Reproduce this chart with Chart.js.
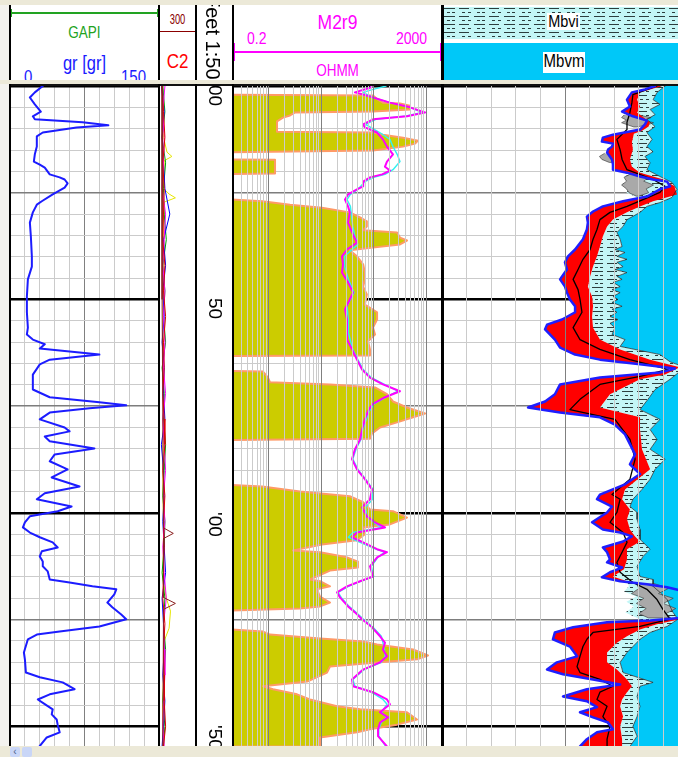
<!DOCTYPE html>
<html>
<head>
<meta charset="utf-8">
<title>Well log</title>
<script src="https://cdn.jsdelivr.net/npm/chart.js@4.4.1/dist/chart.umd.min.js"></script>
<style>
html, body { margin:0; padding:0; overflow:hidden; background:#f3f2ee; }
#frame { position:relative; width:678px; height:757px; overflow:hidden; background:#f3f2ee; font-family:"Liberation Sans", Arial, sans-serif; }
#frame div, #frame canvas { position:absolute; }
.t { line-height:1; white-space:nowrap; transform-origin:50% 0; transform:scaleY(1.18); }
.vl { background:#000; width:2px; }
.dlabel { writing-mode:vertical-rl; font-size:19px; line-height:19px; color:#000; left:205.5px; white-space:nowrap; }
</style>
</head>
<body>
<div id="frame">
  <div style="left:0;top:0;width:678px;height:5px;background:#ece9d8"></div>
  <div style="left:0;top:80px;width:678px;height:4px;background:#ece9d8"></div>

  <!-- log body -->
  <div style="left:9px;top:84px;width:669px;height:662px;background:#fff"></div>
  <canvas id="cGR" width="149" height="660" style="left:10px;top:86px"></canvas>
  <canvas id="cC2" width="35" height="660" style="left:160px;top:86px"></canvas>
  <canvas id="cDepth" width="35" height="660" style="left:197px;top:86px"></canvas>
  <canvas id="cRes" width="210" height="660" style="left:232px;top:86px"></canvas>
  <canvas id="cNMR" width="246" height="660" style="left:442px;top:86px"></canvas>
  <div style="left:9px;top:84px;width:669px;height:2px;background:#111"></div>
  <div class="vl" style="left:9px;top:84px;height:662px"></div>
  <div class="vl" style="left:158px;top:84px;height:662px"></div>
  <div class="vl" style="left:195px;top:84px;height:662px"></div>
  <div class="vl" style="left:232px;top:84px;height:662px"></div>
  <div class="vl" style="left:441px;top:84px;height:662px;width:3px"></div>

  <!-- header -->
  <div id="hdr" style="left:0;top:0;width:678px;height:80px;overflow:hidden">
    <div style="left:9px;top:5px;width:669px;height:75px;background:#fff"></div>
    <div style="left:11px;top:12px;width:147px;height:2px;background:#22a322"></div>
    <div style="left:11px;top:9px;width:1px;height:8px;background:#22a322"></div>
    <div style="left:157px;top:9px;width:1px;height:8px;background:#22a322"></div>
    <div class="t" style="left:11px;top:25px;width:147px;text-align:center;font-size:13.5px;color:#22a322">GAPI</div>
    <div class="t" style="left:11px;top:52.5px;width:147px;text-align:center;font-size:16.5px;color:#1a1aff">gr [gr]</div>
    <div class="t" style="left:24px;top:68px;font-size:15px;color:#1a1aff">0</div>
    <div class="t" style="left:121px;top:68px;font-size:15px;color:#1a1aff">150</div>

    <div class="t" style="left:160px;top:11px;width:35px;text-align:center;font-size:13px;color:#8b0000;transform:scale(0.72,1.15)">300</div>
    <div style="left:160px;top:31px;width:35px;height:1px;background:#8b0000"></div>
    <div class="t" style="left:160px;top:50.5px;width:35px;text-align:center;font-size:17px;color:#ff0000">C2</div>

    <div style="left:197px;top:5px;width:35px;height:75px;overflow:hidden">
      <div style="left:6px;top:-10px;writing-mode:vertical-rl;font-size:20px;line-height:20px;white-space:nowrap;color:#000">Feet 1:500</div>
    </div>

    <div class="t" style="left:234px;top:12.3px;width:207px;text-align:center;font-size:17.5px;color:#ff00ff">M2r9</div>
    <div class="t" style="left:247px;top:29.5px;font-size:14px;color:#ff00ff">0.2</div>
    <div class="t" style="left:396px;top:29.5px;font-size:14px;color:#ff00ff">2000</div>
    <div style="left:233px;top:50.5px;width:209px;height:2.5px;background:#ff00ff"></div>
    <div style="left:233px;top:43px;width:2px;height:18px;background:#ff00ff"></div>
    <div style="left:440px;top:43px;width:2px;height:18px;background:#ff00ff"></div>
    <div class="t" style="left:234px;top:63px;width:207px;text-align:center;font-size:13.5px;color:#ff00ff">OHMM</div>

    <div id="hdrHatch" style="left:444px;top:7px;width:234px;height:32px;background:#c3f6f6"></div>
    <div style="left:444px;top:43px;width:234px;height:37px;background:#00c8f8"></div>
    <div style="left:547px;top:13px;width:33px;height:17px;background:#fff"></div>
    <div class="t" style="left:547px;top:12.5px;width:33px;text-align:center;font-size:14.5px;color:#000">Mbvi</div>
    <div style="left:543px;top:52px;width:42px;height:21px;background:#fff"></div>
    <div class="t" style="left:543px;top:52.4px;width:42px;text-align:center;font-size:15px;color:#000">Mbvm</div>

    <div class="vl" style="left:9px;top:5px;height:75px"></div>
    <div class="vl" style="left:158px;top:5px;height:75px"></div>
    <div class="vl" style="left:195px;top:5px;height:75px"></div>
    <div class="vl" style="left:232px;top:5px;height:75px"></div>
    <div class="vl" style="left:441px;top:5px;height:75px;width:3px"></div>
  </div>

  <!-- horizontal scroll bar -->
  <div style="left:0;top:746px;width:678px;height:11px;background:#ece9d8"></div>
  <div style="left:10px;top:747px;width:10px;height:10px;background:#c9d6f7;border-radius:2px;font-size:10px;line-height:10px;text-align:center;color:#4d6185">&#8249;</div>
  <div style="left:22px;top:747px;width:10px;height:10px;background:#c9d6f7;border-radius:2px"></div>
</div>

<script>
// ---------- depth frame ----------
const DEPTH_TOP = 1100;
const DEPTH_BASE = 1254.6;
const depthLabelDepths = [1100, 1150, 1200, 1250];
const depthLabels = ["00", "50", "'00", "'50"];

// ---------- gamma ray (GAPI) ----------
const grDepth = [
  1100.0,1101.5,1102.7,1104.3,1106.0,1107.1,1107.8,1108.5,1109.2,1109.7,
  1110.9,1111.8,1114.2,1116.0,1117.7,1118.4,1119.1,1120.7,1121.4,1121.9,
  1122.8,1123.8,1125.4,1127.0,1127.8,1129.6,1132.0,1135.2,1139.9,1142.3,
  1145.3,1149.3,1153.0,1156.6,1158.2,1159.4,1160.5,1161.5,1162.9,1164.1,
  1165.2,1167.6,1171.1,1172.9,1174.1,1174.8,1175.5,1176.5,1178.1,1180.0,
  1180.9,1182.1,1183.2,1184.9,1186.3,1187.9,1189.8,1191.7,1193.8,1195.4,
  1196.8,1198.5,1199.6,1200.8,1202.2,1203.4,1204.6,1205.7,1206.9,1208.1,
  1209.0,1210.2,1211.4,1212.5,1213.7,1215.6,1216.3,1217.2,1217.9,1219.1,
  1221.0,1222.1,1223.8,1224.9,1226.6,1227.8,1228.5,1229.6,1232.7,1234.3,
  1237.4,1238.5,1239.7,1241.3,1242.5,1243.7,1244.8,1246.0,1247.2,1248.4,
  1249.6,1251.4,1252.6,1254.6];
const grApi = [
  33,25,20,25,31,23,25,73,99,67,
  33,27,27,25,24,30,35,40,50,55,
  58,55,43,32,27,23,20,21,22,22,
  18,17,17,18,17,23,35,30,90,40,
  30,23,23,40,90,117,80,40,30,55,
  60,35,40,85,45,40,58,42,70,35,
  27,62,48,20,15,13,20,30,43,48,
  32,30,33,33,38,40,60,83,107,105,
  98,103,112,117,90,50,27,18,14,15,
  16,30,53,65,40,28,35,43,42,47,
  48,50,37,30];

// ---------- C2 track ----------
const c2Depth = [1100,1106,1112,1118,1124,1130,1136,1142,1148,1154,
                 1160,1166,1172,1178,1184,1190,1196,1202,1208,1214,
                 1220,1226,1232,1238,1244,1250,1254.6];
const c2Green   = [4,7,3,8,5,6,9,4,7,5, 8,3,6,5,8,6,4,7,6,3, 7,5,8,6,4,7,5];
const c2Blue    = [2,6,3,5,7,14,5,8,4,6, 3,6,5,7,2,5,6,4,6,8, 3,5,6,4,7,5,3];
const c2Magenta = [7,4,6,5,3,8,6,4,7,5, 7,5,8,4,6,8,5,7,4,6, 9,5,6,7,5,4,6];
const c2Red     = [3,5,7,4,6,5,4,7,5,8, 5,6,4,6,7,4,7,5,6,5, 4,7,5,6,6,8,5];
const c2YellowDepth = [1100,1112,1115.5,1116.5,1117.5,1124,1125.3,1126.2,1127.2,1140,
                       1160,1175,1190,1205,1215,1220,1223,1227,1230,1245,1254.6];
const c2Yellow      = [4,5,10,17,6,5,13,22,6,5, 4,5,4,5,4,9,15,13,6,4,4];
const c2BrownDepth = [1100,1150,1203.5,1204.8,1206,1219.8,1221.2,1222.6,1254.6];
const c2Brown      = [3,3,5,19,5,5,22,5,4];

// ---------- resistivity (OHMM) ----------
const shadeDepth = [
  1100.0,1102.0,1102.2,1103.2,1103.9,1104.1,1104.6,1105.5,1106.0,1106.2,
  1106.9,1107.4,1108.3,1110.7,1110.9,1111.4,1112.1,1112.8,1113.5,1114.2,
  1115.1,1115.6,1117.2,1117.3,1120.5,1120.7,1126.1,1127.0,1127.8,1128.5,
  1129.6,1130.8,1131.7,1132.9,1133.8,1134.3,1135.5,1136.2,1137.1,1137.8,
  1138.5,1139.9,1141.8,1143.7,1145.3,1147.0,1148.8,1151.2,1153.0,1154.7,
  1156.6,1158.2,1159.8,1161.7,1163.1,1163.3,1166.6,1166.9,1168.3,1169.4,
  1169.9,1170.6,1172.2,1173.9,1175.3,1176.7,1177.6,1178.8,1180.0,1181.4,
  1182.6,1183.0,1193.1,1193.8,1195.0,1196.1,1197.5,1199.2,1199.6,1201.1,
  1202.7,1203.4,1205.0,1206.4,1207.4,1208.8,1209.2,1210.4,1211.4,1212.8,
  1213.5,1215.6,1216.0,1217.2,1217.9,1219.6,1221.0,1221.9,1222.4,1223.1,
  1226.8,1227.8,1228.5,1229.4,1230.1,1230.8,1232.0,1233.4,1234.3,1235.0,
  1236.0,1237.4,1239.5,1240.6,1241.3,1242.5,1243.7,1245.3,1246.0,1246.7,
  1248.4,1249.6,1250.7,1251.4,1252.6,1254.7];
const shadeOhmm = [
  0.05,0.05,97,121,150,317,491,491,97,3.2,
  2.55,1.87,1.44,1.44,97,150,362,697,614,362,
  97,0.05,0.05,1.32,1.32,0.05,0.05,0.75,2.55,10.3,
  35,55,74,74,63,278,317,430,317,106,
  35,48,63,68,68,63,74,68,116,116,
  97,106,78,85,85,0.05,0.05,0.78,0.97,1.06,
  14.7,106,179,233,430,949,561,278,132,93,
  85,0.05,0.05,0.75,3.94,35,63,85,233,430,
  204,63,68,48,10.3,2.9,9.5,31,50,50,
  14.7,6.1,9.5,14.7,8.3,9.5,14.7,9.5,3.9,0.05,
  0.05,0.78,1.06,9.5,63,116,561,1082,668,132,
  14.7,12.9,5.4,0.78,1.21,3.46,6.1,20,55,430,
  668,278,85,48,9.5,9.5];

const m2r9Depth = [
  1100.0,1100.4,1101.5,1102.0,1102.7,1103.9,1105.0,1106.2,1107.1,1107.8,
  1109.0,1109.7,1110.9,1112.5,1114.2,1116.0,1117.7,1118.9,1119.8,1120.7,
  1121.4,1122.4,1123.5,1124.2,1125.4,1126.6,1128.2,1129.6,1132.0,1134.3,
  1136.7,1138.3,1139.9,1141.8,1143.7,1146.0,1148.4,1150.0,1152.3,1154.7,
  1156.6,1159.4,1161.7,1164.1,1166.4,1168.3,1169.9,1171.5,1172.9,1174.6,
  1176.2,1178.1,1180.5,1182.8,1185.1,1187.4,1189.8,1192.1,1194.5,1196.8,
  1198.7,1200.8,1202.2,1203.4,1204.6,1205.7,1206.9,1208.5,1209.2,1210.4,
  1212.5,1214.9,1216.0,1217.2,1218.6,1219.8,1221.9,1223.3,1224.9,1226.8,
  1228.9,1230.4,1232.0,1233.6,1235.0,1236.7,1239.0,1240.6,1242.0,1243.7,
  1244.8,1246.7,1247.9,1249.1,1250.7,1252.3,1254.7];
const m2r9 = [
  93,85,44,63,97,204,491,949,430,97,
  63,68,116,150,179,233,179,164,204,145,
  85,63,63,48,32.5,28.4,32.5,35,32.5,38.6,
  48,31,24.9,26,24.9,32.5,40.4,35,28.4,31,
  31,31,38.6,48,60,85,150,317,164,93,
  78,68,60,55,44,38.6,48,68,93,85,
  60,74,106,164,48,38.6,63,116,179,116,
  85,97,55,31,20,22.8,32.5,44,60,93,
  132,164,150,179,132,62.7,38.6,40.4,97,179,
  204,132,187,132,121,121,179];

const rxoDepth = [
  1100.0,1100.8,1101.5,1102.7,1103.9,1105.0,1106.2,1107.1,1107.8,1109.0,
  1110.9,1112.5,1114.2,1116.0,1117.7,1119.6,1120.7,1121.4,1122.4,1124.2,
  1125.4,1126.6,1128.2,1130.6,1132.9,1135.2,1137.1,1139.9,1142.3,1145.3,
  1148.4,1151.6,1154.7,1157.8,1161.7,1164.1,1166.4,1168.3,1169.9,1171.5,
  1172.9,1174.6,1176.2,1178.1,1180.5,1182.8,1185.1,1187.4,1189.8,1192.1,
  1194.5,1196.8,1198.7,1200.8,1202.2,1203.4,1204.6,1205.7,1206.9,1208.5,
  1209.2,1210.4,1212.5,1214.9,1216.0,1217.2,1218.6,1219.8,1221.9,1223.3,
  1224.9,1226.8,1228.9,1230.4,1232.0,1233.6,1235.0,1236.7,1239.0,1240.6,
  1242.0,1243.7,1244.8,1246.7,1247.9,1249.1,1250.7,1252.3,1254.7];
const rxo = [
  172,97,63,97,204,491,830,380,110,70,
  130,204,233,280,317,233,164,100,68,50,
  36,31,36,38,40,44,50,28,28,33,
  42,31,33,33,40,50,63,90,160,290,
  170,100,82,72,62,57,46,40,50,70,
  97,95,70,74,100,140,40,33,55,110,
  160,120,90,100,58,33,21,24,34,46,
  64,97,140,150,160,165,140,66,40,44,
  90,150,180,140,175,140,125,125,170];

// ---------- NMR track (grid units, 0 = left edge) ----------
const phiDepth = [
  1100.0,1100.8,1101.5,1103.2,1104.8,1106.0,1107.1,1108.1,1109.0,1110.2,
  1111.4,1112.1,1113.0,1113.5,1114.2,1114.9,1115.6,1117.2,1118.4,1119.6,
  1120.3,1121.2,1121.9,1122.4,1123.5,1124.2,1125.9,1127.0,1128.2,1129.4,
  1130.6,1132.0,1133.6,1135.9,1138.3,1139.9,1141.3,1143.0,1144.6,1145.3,
  1147.0,1148.4,1150.0,1151.6,1153.0,1154.7,1155.9,1157.0,1159.4,1161.3,
  1162.9,1164.1,1165.2,1166.2,1167.1,1168.3,1169.9,1172.2,1173.9,1175.3,
  1176.5,1177.6,1179.3,1181.6,1183.9,1186.3,1188.6,1190.9,1193.3,1195.7,
  1196.8,1198.5,1199.9,1202.2,1203.9,1204.6,1205.5,1206.7,1208.1,1209.2,
  1210.9,1211.6,1212.8,1213.9,1215.1,1216.0,1216.7,1217.4,1218.4,1221.4,
  1224.5,1225.2,1225.6,1226.8,1228.0,1229.6,1231.3,1233.6,1235.0,1236.7,
  1237.8,1239.0,1240.2,1241.3,1243.0,1244.1,1245.5,1246.7,1247.9,1249.1,
  1250.7,1251.4,1253.0,1254.7];
const phiTotal = [
  8.66,8.25,7.72,7.52,7.64,7.32,7.76,8.33,8.25,8.05,
  6.95,6.54,6.5,6.95,6.91,6.75,6.71,6.91,6.95,6.95,
  7.52,8.05,8.58,9.15,9.27,8.86,8.33,7.36,6.54,6.14,
  5.89,5.93,5.89,5.73,5.41,5.12,5.0,5.08,4.88,4.8,
  5.0,5.08,5.2,5.41,5.41,4.88,4.27,4.19,4.59,4.8,
  5.41,6.42,8.05,9.47,8.86,6.42,4.8,4.59,4.19,3.5,
  4.8,6.42,7.03,7.44,7.64,7.85,7.64,8.05,7.44,6.42,
  6.3,6.91,6.71,6.1,6.54,7.24,7.72,7.36,6.54,6.71,
  6.83,6.71,7.32,6.83,6.5,7.24,8.33,9.15,9.88,10.1,
  9.88,8.46,6.71,5.33,4.59,4.51,5.2,5.49,4.67,4.27,
  4.92,6.14,7.24,5.89,4.92,5.89,6.3,5.61,6.14,6.75,
  6.95,6.3,5.89,5.61];

const ffiDepth = [
  1100.0,1101.5,1103.2,1104.8,1106.2,1108.5,1109.5,1110.4,1111.2,1113.2,
  1114.9,1117.2,1118.9,1120.3,1121.9,1123.5,1125.4,1127.0,1128.2,1129.6,
  1131.3,1132.9,1135.2,1137.6,1139.9,1142.3,1144.6,1147.0,1149.3,1151.6,
  1154.0,1156.6,1159.4,1161.7,1164.1,1165.9,1167.6,1168.7,1172.2,1175.3,
  1177.6,1180.5,1185.1,1189.8,1194.5,1196.8,1199.2,1201.5,1203.9,1205.5,
  1206.7,1208.5,1210.9,1213.2,1214.9,1216.0,1217.2,1218.4,1224.5,1224.9,
  1226.1,1227.3,1228.9,1230.4,1232.7,1235.0,1236.7,1239.0,1240.6,1242.0,
  1243.7,1245.3,1247.7,1250.0,1253.0,1254.7];
const ffiEdge = [
  8.94,8.05,7.93,8.05,7.93,8.45,8.4,8.15,7.8,7.72,
  7.76,7.64,7.72,8.05,9.0,9.45,9.55,8.58,8.05,7.52,
  6.95,6.71,6.54,6.42,6.3,6.14,6.02,5.93,6.1,6.14,
  6.1,6.14,6.42,7.24,8.46,9.67,9.07,8.05,6.83,6.42,
  8.05,8.05,8.13,8.46,7.44,7.32,7.64,7.52,7.64,7.85,
  8.05,7.52,7.52,7.4,6.95,7.52,8.86,10.1,10.1,9.67,
  8.74,8.05,7.52,7.11,6.71,6.71,7.11,7.52,7.72,7.52,
  7.32,7.24,7.36,7.24,7.32,7.32];

const bviDepth = [
  1100.0,1101.5,1103.2,1104.8,1106.2,1108.5,1109.5,1110.4,1111.2,1113.2,
  1114.9,1117.2,1118.9,1120.3,1121.2,1122.2,1123.0,1124.0,1125.0,1126.0,
  1127.0,1128.2,1129.6,1131.3,1132.9,1135.2,1137.6,1139.9,1142.3,1144.6,
  1147.0,1149.3,1151.6,1154.0,1156.6,1159.4,1161.7,1164.1,1165.9,1167.6,
  1168.7,1172.2,1175.3,1177.6,1180.5,1185.1,1189.8,1194.5,1196.8,1199.2,
  1201.5,1203.9,1205.5,1206.7,1208.5,1210.9,1213.2,1214.9,1216.0,1217.2,
  1218.4,1219.6,1220.8,1222.0,1223.3,1224.5,1225.3,1226.1,1227.3,1228.9,
  1230.4,1232.7,1235.0,1236.7,1239.0,1240.6,1242.0,1243.7,1245.3,1247.7,
  1250.0,1253.0,1254.7];
const bviEdge = [
  8.94,8.05,7.93,8.05,7.93,8.45,8.4,8.15,7.8,7.72,
  7.76,7.64,7.72,7.8,7.4,7.7,7.3,7.6,7.5,7.9,
  8.58,8.05,7.52,6.95,6.71,6.54,6.42,6.3,6.14,6.02,
  5.93,6.1,6.14,6.1,6.14,6.42,7.24,8.46,9.67,9.07,
  8.05,6.83,6.42,8.05,8.05,8.13,8.46,7.44,7.32,7.64,
  7.52,7.64,7.85,8.05,7.52,7.52,7.4,6.95,7.52,7.6,
  7.4,7.9,7.5,7.8,7.45,7.9,8.2,8.74,8.05,7.52,
  7.11,6.71,6.71,7.11,7.52,7.72,7.52,7.32,7.24,7.36,
  7.24,7.32,7.32];

const bvmDepth = [
  1100.0,1101.5,1103.2,1104.3,1105.5,1106.7,1107.8,1109.5,1110.9,1112.5,
  1114.2,1115.4,1116.5,1118.0,1119.6,1121.2,1122.6,1124.2,1126.1,1127.3,
  1128.2,1129.6,1131.3,1132.9,1134.3,1135.9,1137.6,1138.3,1139.0,1139.9,
  1140.6,1141.3,1142.3,1143.0,1143.7,1144.6,1145.3,1146.0,1147.0,1147.7,
  1148.4,1149.3,1150.0,1150.7,1151.6,1152.3,1153.0,1154.0,1154.7,1155.6,
  1156.6,1158.2,1159.4,1161.0,1162.9,1164.6,1165.9,1168.7,1171.1,1173.4,
  1175.8,1178.1,1180.5,1182.8,1185.1,1187.4,1189.8,1192.1,1194.5,1196.8,
  1198.5,1199.9,1201.5,1203.9,1206.2,1208.5,1210.2,1212.5,1214.9,1215.6,
  1217.2,1218.6,1220.3,1221.9,1223.3,1224.9,1226.6,1228.0,1229.6,1231.3,
  1232.7,1235.0,1237.4,1239.7,1240.6,1243.0,1245.3,1247.7,1250.0,1252.3,
  1254.7];
const bvmEdge = [
  9.07,8.74,8.58,8.86,8.46,8.66,8.33,8.66,8.33,8.54,
  8.33,8.58,8.25,8.46,8.33,8.86,9.35,9.55,9.35,8.86,
  8.33,8.05,7.52,7.36,7.11,7.24,7.32,7.03,7.44,7.11,
  7.52,7.11,7.36,7.03,7.52,7.11,7.32,6.95,7.24,6.91,
  7.24,6.95,7.15,6.91,7.32,6.91,7.11,6.83,7.15,6.83,
  7.03,6.91,7.44,7.24,8.86,9.27,9.88,9.27,8.66,8.37,
  8.05,8.86,8.46,8.74,8.46,9.07,8.66,8.46,8.13,7.76,
  7.64,7.93,7.93,8.05,8.05,8.46,8.17,7.93,8.05,8.58,
  8.58,8.86,9.15,9.27,9.39,9.59,9.15,8.46,8.05,7.76,
  7.52,7.24,7.36,8.58,8.05,7.93,8.05,7.93,7.76,7.93,
  7.64];

const capDepth = [
  1100.0,1102.0,1103.9,1106.2,1108.5,1110.2,1112.5,1114.9,1117.2,1119.6,
  1121.9,1123.5,1124.9,1126.6,1128.2,1129.6,1131.3,1133.6,1135.9,1138.3,
  1140.6,1143.0,1145.3,1147.7,1150.0,1153.0,1156.6,1159.4,1161.7,1164.1,
  1166.4,1168.0,1169.9,1173.4,1175.8,1178.1,1182.8,1187.4,1192.1,1195.7,
  1196.8,1199.9,1202.2,1204.6,1206.9,1209.2,1211.6,1213.9,1216.3,1217.9,
  1220.3,1222.6,1224.9,1226.6,1228.0,1229.6,1231.3,1233.6,1236.0,1237.4,
  1239.0,1240.6,1242.0,1243.7,1245.3,1247.7,1250.0,1253.0,1254.7];
const capCurve = [
  8.74,7.76,7.72,7.64,7.52,7.52,7.11,7.24,7.32,7.52,
  8.58,9.07,8.86,8.17,7.52,6.83,6.42,6.3,6.14,6.02,
  5.73,5.53,5.33,5.53,5.61,5.69,5.33,5.61,6.42,7.64,
  9.19,8.05,6.42,5.61,5.2,7.03,7.64,7.85,7.64,6.91,
  7.24,7.11,6.83,7.36,7.52,7.32,7.11,7.24,7.76,8.33,
  8.74,8.98,9.27,8.05,6.14,5.89,5.73,5.61,5.49,5.61,
  6.42,6.95,6.42,6.3,6.71,6.54,6.83,6.71,6.71];

// clay-bound patches: depth, left edge, right edge
const clayA = {depth: [1106.8,1107.4,1108.0,1108.6,1109.2,1109.6], left: [7.4,7.3,7.5,7.3,7.6,7.8], right: [8.0,8.5,8.2,8.6,8.3,7.9]};
const clayB = {depth: [1115.8,1116.5,1117.2,1117.9], left: [6.6,6.4,6.5,6.8], right: [6.9,6.95,6.95,6.9]};
const clayC = {depth: [1120.5,1121.4,1122.3,1123.2,1124.1,1125.0,1125.8], left: [7.7,7.4,7.5,7.3,7.5,7.6,7.9], right: [8.1,8.4,8.2,8.6,8.3,8.4,8.0]};
const clayD = {depth: [1216.5,1217.7,1218.9,1220.0,1221.2,1222.4,1223.6,1224.6], left: [7.9,8.0,7.7,8.2,7.9,8.3,8.0,8.4], right: [8.6,9.2,8.8,9.4,9.0,9.5,9.1,9.3]};

// ---------- grid definitions ----------
const depthGrid = [];
for (let d = DEPTH_TOP; d <= 1250; d += 5) depthGrid.push(d);
const grLines = [15, 30, 45, 60, 75, 90, 105, 120, 135];
const grDark = [75];
const resLines = [0.3,0.4,0.5,0.6,0.7,0.8,0.9,1,2,3,4,5,6,7,8,9,10,20,30,40,50,60,70,80,90,
                  100,200,300,400,500,600,700,800,900,1000];
const resDark = [1, 10, 100, 1000];
const nmrLines = [1,2,3,4,5,6,7,8,9];
const nmrDark = [5];

// ---------- helpers ----------
const pairs = (depths, vals) => depths.map((d, i) => ({x: vals[i], y: d}));

function trace(depths, vals, color, width, order) {
  return {data: pairs(depths, vals), borderColor: color, borderWidth: width, fill: false,
          order, pointRadius: 0, tension: 0};
}
function band(dA, vA, dB, vB, color, order, outline, ow) {
  return {data: pairs(dA, vA).concat(pairs(dB, vB).reverse()), fill: 'shape',
          backgroundColor: color, borderColor: outline || 'rgba(0,0,0,0)', borderWidth: ow || 0,
          order, pointRadius: 0, tension: 0};
}
function edgeFill(depths, vals, edge, color, order, outline, ow) {
  const pts = pairs(depths, vals);
  pts.push({x: edge, y: depths[depths.length - 1]}, {x: edge, y: depths[0]});
  return {data: pts, fill: 'shape', backgroundColor: color, borderColor: outline || 'rgba(0,0,0,0)',
          borderWidth: ow || 0, order, pointRadius: 0, tension: 0};
}
function depthLineColor(v) { return v % 50 === 0 ? '#000000' : (v % 25 === 0 ? '#7d7d7d' : '#cbcbcb'); }
function depthLineWidth(v) { return v % 50 === 0 ? 2.5 : (v % 25 === 0 ? 1.4 : 1); }

function depthAxis(showGrid) {
  return {
    type: 'linear', reverse: true, min: DEPTH_TOP, max: DEPTH_BASE,
    border: {display: false}, ticks: {display: false},
    grid: {display: showGrid, drawTicks: false,
      color: c => c.tick ? depthLineColor(c.tick.value) : '#cbcbcb',
      lineWidth: c => c.tick ? depthLineWidth(c.tick.value) : 1},
    afterBuildTicks: s => { s.ticks = depthGrid.map(v => ({value: v})); }
  };
}
function valueAxis(type, min, max, lines, dark, overFill) {
  return {
    type, min, max,
    border: {display: false}, ticks: {display: false},
    grid: {drawTicks: false, z: overFill ? 1 : -1, lineWidth: 1,
      color: c => (c.tick && dark.includes(c.tick.value)) ? '#808080' : '#cbcbcb'},
    afterBuildTicks: s => { s.ticks = lines.map(v => ({value: v})); }
  };
}
function makeChart(id, datasets, xAxis, showDepthGrid) {
  return new Chart(document.getElementById(id), {
    type: 'line',
    data: {datasets},
    options: {
      responsive: false, animation: false, events: [],
      layout: {autoPadding: false, padding: 0},
      plugins: {legend: {display: false}, tooltip: {enabled: false}},
      elements: {point: {radius: 0, hoverRadius: 0},
                 line: {tension: 0, borderJoinStyle: 'round', borderCapStyle: 'round'}},
      scales: {x: xAxis, y: depthAxis(showDepthGrid)}
    }
  });
}

// hatch used for the bound-fluid fill
function makeHatch() {
  const c = document.createElement('canvas');
  c.width = 30; c.height = 8;
  const g = c.getContext('2d');
  g.fillStyle = '#c3f6f6'; g.fillRect(0, 0, 30, 8);
  g.fillStyle = '#2c3d3d';
  g.fillRect(0, 1, 11, 1); g.fillRect(15, 1, 10, 1);
  g.fillRect(3, 5, 3, 1); g.fillRect(8, 5, 3, 1); g.fillRect(18, 5, 3, 1); g.fillRect(24, 5, 3, 1);
  return c;
}
const hatchTile = makeHatch();
document.getElementById('hdrHatch').style.background = 'url(' + hatchTile.toDataURL() + ')';
const hatch = document.getElementById('cNMR').getContext('2d').createPattern(hatchTile, 'repeat');

// ---------- tracks ----------
makeChart('cGR', [trace(grDepth, grApi, '#1c1cff', 2, 1)],
  valueAxis('linear', 0, 150, grLines, grDark, false), true);

makeChart('cC2', [
  trace(c2Depth, c2Green, '#00a000', 1, 5),
  trace(c2Depth, c2Blue, '#0000ff', 1, 4),
  trace(c2Depth, c2Magenta, '#ff00ff', 1, 3),
  trace(c2Depth, c2Red, '#e00000', 1, 2),
  trace(c2YellowDepth, c2Yellow, '#e6e600', 1, 6),
  trace(c2BrownDepth, c2Brown, '#8b2020', 1, 1)
], {type: 'linear', min: 0, max: 50, display: false}, false);

const depthChart = makeChart('cDepth', [], {type: 'linear', min: 0, max: 1, display: false}, false);

makeChart('cRes', [
  trace(m2r9Depth, m2r9, '#ff00ff', 2, 1),
  trace(rxoDepth, rxo, '#33f0f0', 1.4, 2),
  edgeFill(shadeDepth, shadeOhmm, 0.05, '#cccc00', 10, '#ff9a66', 2)
], valueAxis('logarithmic', 0.2, 2000, resLines, resDark, true), true);

const clay = p => band(p.depth, p.left, p.depth, p.right, '#a9a9a9', 25, '#333333', 0.6);
makeChart('cNMR', [
  trace(phiDepth, phiTotal, '#1e1eff', 2.5, 1),
  trace(capDepth, capCurve, '#000000', 1.3, 2),
  trace(bvmDepth, bvmEdge, '#222222', 0.7, 3),
  band(phiDepth, phiTotal, ffiDepth, ffiEdge, '#ff0000', 20),
  clay(clayA), clay(clayB), clay(clayC), clay(clayD),
  band(bviDepth, bviEdge, bvmDepth, bvmEdge, hatch, 30),
  edgeFill(bvmDepth, bvmEdge, 11, '#00c8f8', 40)
], valueAxis('linear', 0, 10, nmrLines, nmrDark, true), true);

// depth annotations placed from the depth scale
const frame = document.getElementById('frame');
const ys = depthChart.scales.y;
depthLabelDepths.forEach((d, i) => {
  const el = document.createElement('div');
  el.className = 'dlabel';
  el.textContent = depthLabels[i];
  el.style.top = (86 + ys.getPixelForValue(d) - 1) + 'px';
  frame.insertBefore(el, document.getElementById('hdr'));
});
</script>
</body>
</html>
